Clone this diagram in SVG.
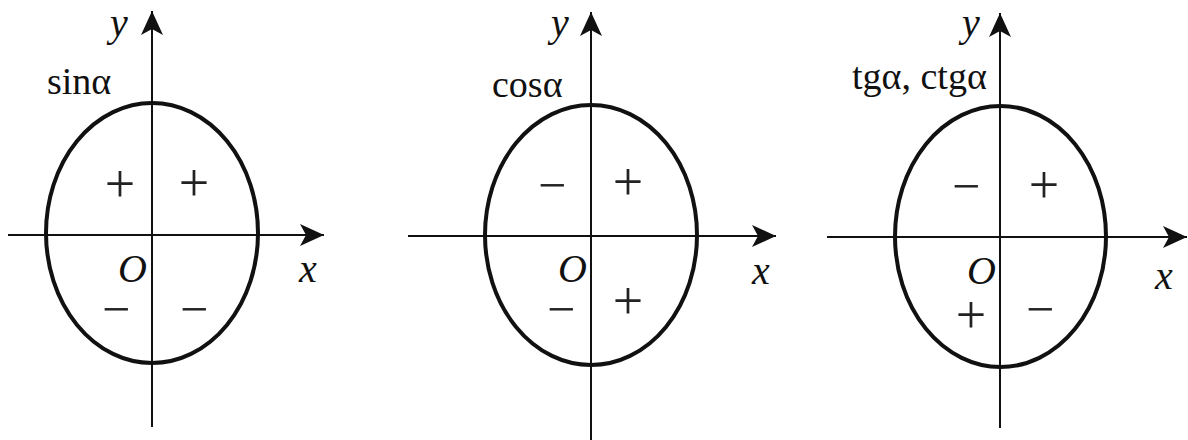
<svg xmlns="http://www.w3.org/2000/svg" width="1188" height="440" viewBox="0 0 1188 440">
<style>
.ax{stroke:#111;stroke-width:2;fill:none;marker-end:url(#arr)}
.ov{stroke:#111;stroke-width:4;fill:none}
.lb{font-family:"Liberation Serif","Times New Roman",serif;font-size:38px;fill:#111}
.it{font-family:"Liberation Serif","Times New Roman",serif;font-style:italic;font-size:40px;fill:#111}
.pl{font-family:"Liberation Serif","Times New Roman",serif;font-size:54px;fill:#222;text-anchor:middle}
.mi{font-family:"Liberation Serif","Times New Roman",serif;font-size:50px;fill:#222;text-anchor:middle}
</style>
<defs>
<marker id="arr" markerUnits="userSpaceOnUse" markerWidth="26" markerHeight="22" refX="24" refY="11" orient="auto" viewBox="0 0 26 22">
<path d="M0,0 L24,11 L0,22 L6,11 Z" fill="#111"/>
</marker>
</defs>
<rect width="1188" height="440" fill="#fff"/>
<g id="panel-sin">
<ellipse class="ov" cx="152" cy="233" rx="106" ry="130"/>
<line class="ax" x1="8" y1="235" x2="324" y2="235"/>
<line class="ax" x1="152" y1="427" x2="152" y2="11"/>
<text class="it" x="110" y="36">y</text>
<text class="lb" x="47" y="94">sinα</text>
<text class="it" x="118" y="282">O</text>
<text class="it" x="299" y="282">x</text>
<text class="pl" x="120" y="202">+</text>
<text class="pl" x="194" y="201">+</text>
<text class="mi" x="116" y="326">−</text>
<text class="mi" x="194" y="326">−</text>
</g>
<g id="panel-cos">
<ellipse class="ov" cx="591" cy="235" rx="106" ry="130"/>
<line class="ax" x1="408" y1="236" x2="776" y2="236"/>
<line class="ax" x1="591" y1="440" x2="591" y2="12"/>
<text class="it" x="551" y="36">y</text>
<text class="lb" x="492" y="97">cosα</text>
<text class="it" x="558" y="282">O</text>
<text class="it" x="752" y="284">x</text>
<text class="mi" x="552" y="202">−</text>
<text class="pl" x="628" y="200">+</text>
<text class="mi" x="561" y="326">−</text>
<text class="pl" x="628" y="319">+</text>
</g>
<g id="panel-tg">
<ellipse class="ov" cx="1000.5" cy="236.5" rx="105.5" ry="130.5"/>
<line class="ax" x1="827" y1="237" x2="1187" y2="237"/>
<line class="ax" x1="1000" y1="428" x2="1000" y2="13"/>
<text class="it" x="962" y="36">y</text>
<text class="lb" x="852" y="89">tgα, ctgα</text>
<text class="it" x="967" y="284">O</text>
<text class="it" x="1155" y="289">x</text>
<text class="mi" x="966" y="203">−</text>
<text class="pl" x="1044" y="203">+</text>
<text class="pl" x="971" y="333">+</text>
<text class="mi" x="1040" y="326">−</text>
</g>
</svg>
